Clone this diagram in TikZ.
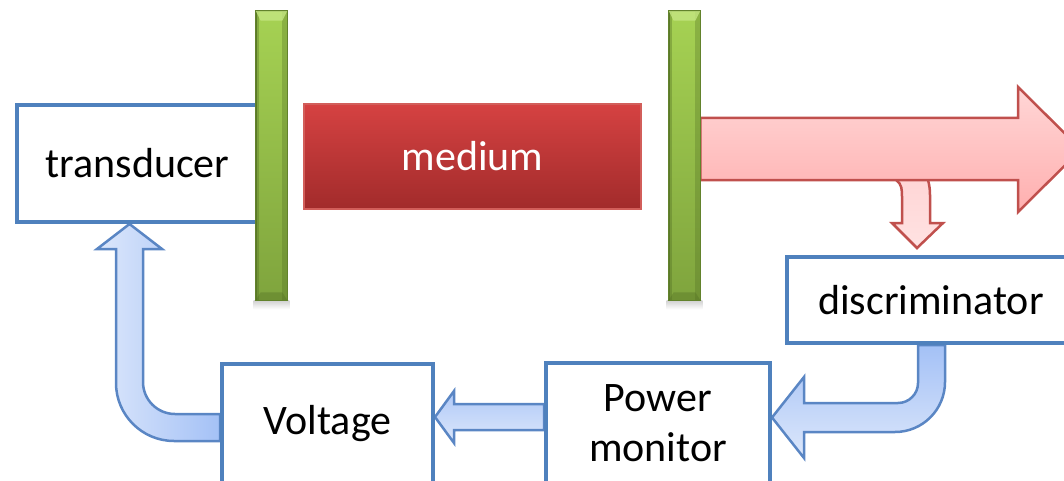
\documentclass[tikz,border=0pt]{standalone}
\usepackage{fontspec}
\setmainfont{Carlito}
\usetikzlibrary{fadings}

\definecolor{boxblue}{HTML}{4F81BD}
\definecolor{flowblue}{HTML}{5A86C4}
\definecolor{bluedeep}{HTML}{A4C1F6}
\definecolor{bluepale}{HTML}{DCE7FB}
\definecolor{beamred}{HTML}{C0504D}
\definecolor{beamtop}{HTML}{FFD6D6}
\definecolor{beambot}{HTML}{FFAFAF}
\definecolor{medtop}{HTML}{D54242}
\definecolor{medbot}{HTML}{A22B2B}
\definecolor{medline}{HTML}{D25E5A}
\definecolor{bartop}{HTML}{A6D253}
\definecolor{barbot}{HTML}{7FA43D}
\definecolor{barline}{HTML}{62822C}
\definecolor{bardark}{HTML}{4F6B22}
\definecolor{barhi}{HTML}{C4E582}

\newcommand{\labelfont}{\fontsize{42}{50}\selectfont}

\tikzset{
  blockbox/.style={draw=boxblue, line width=4pt, fill=white, inner sep=0pt,
    font=\labelfont, align=center, text=black},
  mediumbox/.style={draw=medline, line width=2pt, top color=medtop, bottom color=medbot,
    inner sep=0pt, font=\labelfont, text=white},
  mirror/.style={draw=barline, line width=0.8pt, top color=bartop, bottom color=barbot,
    inner sep=0pt, minimum width=31pt, minimum height=289pt},
  beam/.style={draw=beamred, line width=2.5pt, line join=miter},
  flow/.style={draw=flowblue, line width=2.5pt, line join=miter},
}

\begin{document}
\begin{tikzpicture}[x=1pt,y=-1pt]
\useasboundingbox (0,0) rectangle (1064,481);
\clip (0,0) rectangle (1064,481);

% boxes of the loop
\node[blockbox, minimum width=241pt, minimum height=117pt] (trans) at (137.5,163.5) {transducer};
\node[blockbox, minimum width=288pt, minimum height=86pt] (disc) at (931,300) {discriminator};
\node[blockbox, minimum width=224pt, minimum height=121pt] (power) at (658,423.5) {Power\\monitor};
\node[blockbox, minimum width=211pt, minimum height=120pt] (volt) at (327.5,424) {Voltage};

% cavity mirrors and the medium between them
\node[mirror] (barL) at (271.5,155.5) {};
\node[mirror] (barR) at (684.5,155.5) {};
\node[mediumbox, minimum width=337pt, minimum height=105pt] (med) at (472.5,156.5) {medium};

% output beam and the sampled part going to the discriminator
\coordinate (tap) at (917,248);
\shade[beam, top color=beamtop, bottom color=beamtop!70!white]
  (896,180) .. controls (902,184) and (902,190) .. (902,197) -- (902,223) -- (892,223)
  -- (tap) -- (943,223) -- (930,223) -- (930,195) .. controls (930,188) and (929,184) .. (928,180);
\shade[beam, top color=beamtop, bottom color=beambot]
  (barR.east |- 0,118) -- (1018,118) -- (1018,87) -- (1081,149.5) -- (1018,212) -- (1018,180)
  -- (barR.east |- 0,180) -- cycle;

% feedback arrows
\shade[flow, left color=bluepale, right color=bluedeep]
  (volt.west |- 0,414) -- (175,414) .. controls (157.3,414) and (143,399.7) .. (143,382)
  -- (143,249) -- (162,249) -- (trans.south -| 129.5,0) -- (97,249) -- (116,249) -- (116,383)
  .. controls (116,415) and (142,441) .. (174,441) -- (volt.west |- 0,441) -- cycle;
\shade[flow, top color=bluedeep!80!bluepale, bottom color=bluepale]
  (power.west |- 0,404) -- (454,404) -- (454,391) -- (volt.east |- 0,417) -- (454,443)
  -- (454,430) -- (power.west |- 0,430) -- cycle;
\shade[flow, top color=bluedeep, bottom color=bluepale]
  (disc.south -| 918,0) -- (918,383) .. controls (918,394) and (909,403) .. (898,403)
  -- (804,403) -- (804,377) -- (power.east |- 0,417.5) -- (804,458) -- (804,432) -- (895,432)
  .. controls (922.6,432) and (945,409.6) .. (945,382) -- (disc.south -| 945,0) -- cycle;

% redraw boxes on top of the arrow ends
\node[blockbox, minimum width=241pt, minimum height=117pt] at (trans) {transducer};
\node[blockbox, minimum width=288pt, minimum height=86pt] at (disc) {discriminator};
\node[blockbox, minimum width=224pt, minimum height=121pt] at (power) {Power\\monitor};
\node[blockbox, minimum width=211pt, minimum height=120pt] at (volt) {Voltage};

% mirrors over the box edge and beam start, with a bevelled look
\foreach \b in {barL,barR}{
  \shade[top color=black!18, bottom color=white]
    ([xshift=-2pt]\b.south west) rectangle ([xshift=2pt,yshift=-9pt]\b.south east);
  \node[mirror] at (\b) {};
  % darker side edges
  \fill[bardark, opacity=0.35] (\b.south west) rectangle ([xshift=3pt]\b.north west);
  \fill[bardark, opacity=0.30] ([xshift=-5pt]\b.south east) rectangle (\b.north east);
  % light top bevel
  \fill[barhi, opacity=0.8] (\b.north west) -- (\b.north east)
    -- ([xshift=-5pt,yshift=-10pt]\b.north east) -- ([xshift=5pt,yshift=-10pt]\b.north west) -- cycle;
  % darker bottom bevel
  \fill[bardark, opacity=0.35] (\b.south west) -- (\b.south east)
    -- ([xshift=-5pt,yshift=8pt]\b.south east) -- ([xshift=5pt,yshift=8pt]\b.south west) -- cycle;
  \draw[barline, line width=0.8pt] (\b.south west) rectangle (\b.north east);
}
\end{tikzpicture}
\end{document}
